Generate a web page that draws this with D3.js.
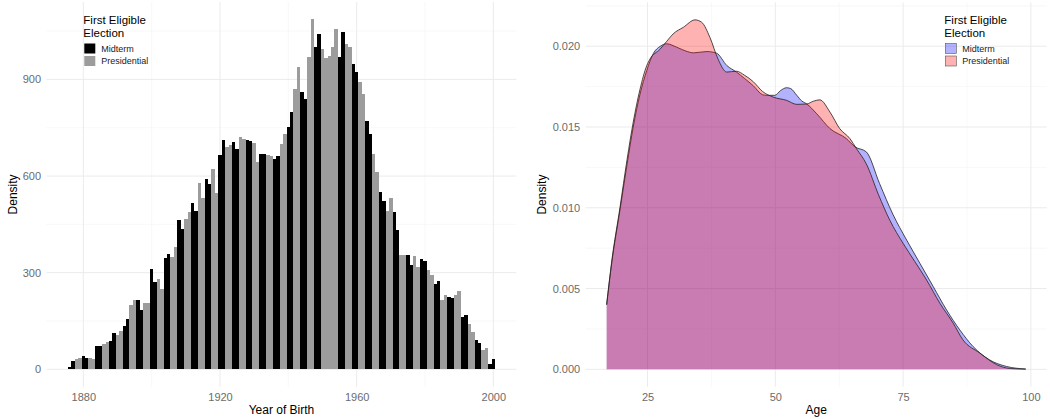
<!DOCTYPE html>
<html>
<head>
<meta charset="utf-8">
<script src="https://d3js.org/d3.v7.min.js"></script>
<style>
  body { margin: 0; background: #fff; }
  svg text { font-family: "Liberation Sans", Arial, sans-serif; }
</style>
</head>
<body>
<div id="chart"></div>
<script>
//define width and height
var svgWidth = 1050;
var svgHeight = 419;

// ---- left: year of birth histogram ----
var birthYears = d3.range(1876, 2001);
var yearCounts = [
  7, 25, 33, 34, 40, 35, 34, 32, 72, 71, 80, 85, 88, 112, 105, 118, 136, 157, 200, 214,   // 1876-1895
  216, 183, 206, 206, 311, 271, 281, 250, 345, 359, 348, 379, 462, 436, 467, 488, 517, 493, 579, 532, // 1896-1915
  591, 576, 623, 548, 664, 711, 690, 695, 706, 683, 721, 716, 712, 710, 704, 645, 669, 669, 666, 662, // 1916-1935
  654, 662, 700, 730, 752, 800, 871, 938, 862, 840, 969, 1086, 1000, 1041, // 1936-1949
  995, 966, 974, 1000, 1055, // 1950-1954
  969, 1047, 1010, 1000, 948, 922, 893, 855, 772, 731, 669, 612, 550, 524, 490, 531, 488, 431, 356, 356, // 1955-1974
  356, 325, 352, 317, 341, 335, 307, 292, 266, 273, 214, 230, 224, 221, 230, 242, 162, 168, 142, 116, // 1975-1994
  90, 83, 59, 66, 18, 31 // 1995-2000
];
// first eligible election for each birth year: M = midterm, P = presidential
var yearElection = (
  "MMPPMMPPMMPPMMPPMMPP" +   // 1876-1895
  "MMPPMMPPMMPPMMPPMMPP" +   // 1896-1915
  "MMPPMMPPMMPPMMPPMMPP" +   // 1916-1935
  "MMPPMMPPMMPPMM" +         // 1936-1949
  "PPPPP" +                  // 1950-1954
  "MMPPMMPPMMPPMMPPMMPP" +   // 1955-1974
  "MMPPMMPPMMPPMMPPMMPP" +   // 1975-1994
  "MMPPMM"                   // 1995-2000
).split("");

var electionNames = ["Midterm", "Presidential"];
var electionCodes = ["M", "P"];
var histColors = ["#000000", "#9c9c9c"];

var yearMajor = [1880, 1920, 1960, 2000];
var yearMinor = [1900, 1940, 1980];
var countMajor = [0, 300, 600, 900];
var countMinor = [150, 450, 750, 1050];

// ---- right: age density ----
var midtermAge = [17, 18, 19.6, 21, 22.2, 23.5, 24.85, 26.1, 27.5, 28.75, 30.7, 32.5, 34.0, 36.6, 38.5,
  40.5, 42.4, 44, 45.7, 47.5, 48.3, 49.9, 51, 52.2, 53, 54.2, 55.2, 56.1, 58.1, 60.7, 63.9, 65.6,
  67.8, 70.4, 73.0, 75.7, 78.3, 80.9, 83.5, 86.1, 88.7, 91.9, 95.2, 99];
var midtermDensity = [0.0040, 0.0066, 0.00985, 0.0127, 0.0150, 0.0170, 0.0185, 0.01953, 0.0200, 0.02015,
  0.01994, 0.01970, 0.01959, 0.01967, 0.01957, 0.01881, 0.0184, 0.0180, 0.01755, 0.0170, 0.01696,
  0.01696, 0.01725, 0.01743, 0.01738, 0.01696, 0.0166, 0.01644, 0.01582, 0.0149, 0.01428, 0.01377,
  0.01346, 0.0115, 0.0096, 0.0080, 0.00656, 0.00512, 0.00368, 0.00244, 0.00141, 0.00059, 0.00018, 0.00002];

var presAge = [17, 18, 19.6, 21, 22.2, 23.5, 24.85, 25.5, 27.4, 28.75, 30.0, 32.0, 34.3, 35.6, 37.2,
  38.8, 40.5, 42.4, 44, 45.7, 47.5, 49.6, 52.2, 54.2, 56.1, 57.5, 58.7, 60.7, 62.6, 64.6, 65.9,
  67.8, 70.2, 72.4, 75.0, 77.3, 79.6, 82.2, 84.8, 86.7, 90.0, 93.3, 96, 99];
var presDensity = [0.0040, 0.0067, 0.0100, 0.0130, 0.0153, 0.0173, 0.0188, 0.01922, 0.0198, 0.0203,
  0.02076, 0.02117, 0.02163, 0.02148, 0.02055, 0.0192, 0.0184, 0.01845, 0.0182, 0.0178, 0.0172,
  0.01685, 0.01665, 0.0164, 0.01642, 0.0166, 0.01668, 0.01592, 0.0149, 0.01428, 0.01365, 0.01272,
  0.0108, 0.00923, 0.0078, 0.00667, 0.00553, 0.00409, 0.00286, 0.00183, 0.00101, 0.00029, 0.00005, 0.00001];

var densFills = ["rgba(0,0,255,0.3)", "rgba(255,0,0,0.3)"];

var ageMajor = [25, 50, 75, 100];
var ageMinor = [37.5, 62.5, 87.5];
var densMajor = [0, 0.005, 0.010, 0.015, 0.020];
var densMinor = [0.0025, 0.0075, 0.0125, 0.0175, 0.0225];

// panel boxes
var leftPanel = { x0: 46.6, x1: 516.4, y0: 2, y1: 386.8 };
var rightPanel = { x0: 585.7, x1: 1046.7, y0: 2.4, y1: 386.8 };

var svg = d3.select("#chart")
  .append("svg")
  .attr("width", svgWidth)
  .attr("height", svgHeight);

// ggplot style 5% expansion
function expand(lo, hi) {
  var pad = (hi - lo) * 0.05;
  return [lo - pad, hi + pad];
}

function drawGrid(panel, xScale, yScale, xMaj, xMin, yMaj, yMin) {
  var g = svg.append("g");
  g.selectAll(".vmin").data(xMin).enter().append("line")
    .attr("x1", d => xScale(d)).attr("x2", d => xScale(d))
    .attr("y1", panel.y0).attr("y2", panel.y1)
    .attr("stroke", "#f3f3f3").attr("stroke-width", 0.6);
  g.selectAll(".hmin").data(yMin).enter().append("line")
    .attr("x1", panel.x0).attr("x2", panel.x1)
    .attr("y1", d => yScale(d)).attr("y2", d => yScale(d))
    .attr("stroke", "#f3f3f3").attr("stroke-width", 0.6);
  g.selectAll(".vmaj").data(xMaj).enter().append("line")
    .attr("x1", d => xScale(d)).attr("x2", d => xScale(d))
    .attr("y1", panel.y0).attr("y2", panel.y1)
    .attr("stroke", "#ebebeb").attr("stroke-width", 1);
  g.selectAll(".hmaj").data(yMaj).enter().append("line")
    .attr("x1", panel.x0).attr("x2", panel.x1)
    .attr("y1", d => yScale(d)).attr("y2", d => yScale(d))
    .attr("stroke", "#ebebeb").attr("stroke-width", 1);
}

function drawAxes(panel, xScale, yScale, xTicks, yTicks, yFmt, xTitle, yTitleX) {
  var bottomAxis = d3.axisBottom(xScale).tickValues(xTicks).tickSize(0).tickPadding(6).tickFormat(d3.format("d"));
  var leftAxis = d3.axisLeft(yScale).tickValues(yTicks).tickSize(0).tickPadding(5.5).tickFormat(yFmt);

  var xAxis = svg.append("g")
    .attr("transform", `translate(0, ${panel.y1})`)
    .call(bottomAxis);
  var yAxis = svg.append("g")
    .attr("transform", `translate(${panel.x0}, 0)`)
    .call(leftAxis);

  [xAxis, yAxis].forEach(function(ax) {
    ax.select(".domain").remove();
    ax.selectAll("text")
      .style("fill", "#6b6b6b")
      .style("font-size", "11px")
      .style("font-family", "'Liberation Sans', Arial, sans-serif");
  });

  svg.append("text")
    .attr("x", (panel.x0 + panel.x1) / 2)
    .attr("y", 414)
    .attr("text-anchor", "middle")
    .style("font-size", "12px")
    .attr("fill", "#000")
    .text(xTitle);

  var cy = (panel.y0 + panel.y1) / 2;
  svg.append("text")
    .attr("transform", `translate(${yTitleX}, ${cy}) rotate(-90)`)
    .attr("text-anchor", "middle")
    .style("font-size", "12px")
    .attr("fill", "#000")
    .text("Density");
}

function drawLegend(x, keyFills, keyStroke) {
  var g = svg.append("g");
  g.append("text").attr("x", x).attr("y", 24).style("font-size", "11.5px").text("First Eligible");
  g.append("text").attr("x", x).attr("y", 36.5).style("font-size", "11.5px").text("Election");
  electionNames.forEach(function(name, i) {
    g.append("rect")
      .attr("x", x + 1).attr("y", 43.5 + i * 12.5)
      .attr("width", 11).attr("height", 10)
      .attr("fill", keyFills[i])
      .attr("stroke", keyStroke)
      .attr("stroke-width", keyStroke === "none" ? 0 : 0.6);
    g.append("text")
      .attr("x", x + 18).attr("y", 48.5 + i * 12.5)
      .attr("dy", "0.35em")
      .style("font-size", "9px")
      .attr("fill", "#222")
      .text(name);
  });
}

// ================= left panel =================
var yearScale = d3.scaleLinear()
  .domain(expand(d3.min(birthYears) - 0.5, d3.max(birthYears) + 0.5))
  .range([leftPanel.x0, leftPanel.x1]);
var countScale = d3.scaleLinear()
  .domain(expand(0, d3.max(yearCounts)))
  .range([leftPanel.y1, leftPanel.y0]);

drawGrid(leftPanel, yearScale, countScale, yearMajor, yearMinor, countMajor, countMinor);

var histData = birthYears.map(function(y, i) {
  return { year: y, count: yearCounts[i], type: yearElection[i] };
});

svg.append("g").selectAll("rect")
  .data(histData)
  .enter()
  .append("rect")
  .attr("x", d => yearScale(d.year - 0.5))
  .attr("width", d => yearScale(d.year + 0.5) - yearScale(d.year - 0.5))
  .attr("y", d => countScale(d.count))
  .attr("height", d => countScale(0) - countScale(d.count))
  .attr("fill", d => histColors[electionCodes.indexOf(d.type)])
  .attr("shape-rendering", "crispEdges");

drawAxes(leftPanel, yearScale, countScale, yearMajor, countMajor, d3.format("d"), "Year of Birth", 17);
drawLegend(83.3, histColors, "none");

// ================= right panel =================
var allAges = midtermAge.concat(presAge);
var ageScale = d3.scaleLinear()
  .domain(expand(d3.min(allAges), d3.max(allAges)))
  .range([rightPanel.x0, rightPanel.x1]);
var densScale = d3.scaleLinear()
  .domain(expand(0, d3.max(midtermDensity.concat(presDensity))))
  .range([rightPanel.y1, rightPanel.y0]);

drawGrid(rightPanel, ageScale, densScale, ageMajor, ageMinor, densMajor, densMinor);

var densSeries = [
  midtermAge.map((a, i) => ({ age: a, dens: midtermDensity[i] })),
  presAge.map((a, i) => ({ age: a, dens: presDensity[i] }))
];

var densArea = d3.area()
  .x(d => ageScale(d.age))
  .y0(densScale(0))
  .y1(d => densScale(d.dens))
  .curve(d3.curveMonotoneX);
var densLine = d3.line()
  .x(d => ageScale(d.age))
  .y(d => densScale(d.dens))
  .curve(d3.curveMonotoneX);

densSeries.forEach(function(series, i) {
  svg.append("path")
    .datum(series)
    .attr("d", densArea)
    .attr("fill", densFills[i])
    .attr("stroke", "none");
  svg.append("path")
    .datum(series)
    .attr("d", densLine)
    .attr("fill", "none")
    .attr("stroke", "#222")
    .attr("stroke-width", 0.8);
});

drawAxes(rightPanel, ageScale, densScale, ageMajor, densMajor, d3.format(".3f"), "Age", 546);
drawLegend(944.3, densFills, "#555");
</script>
</body>
</html>
